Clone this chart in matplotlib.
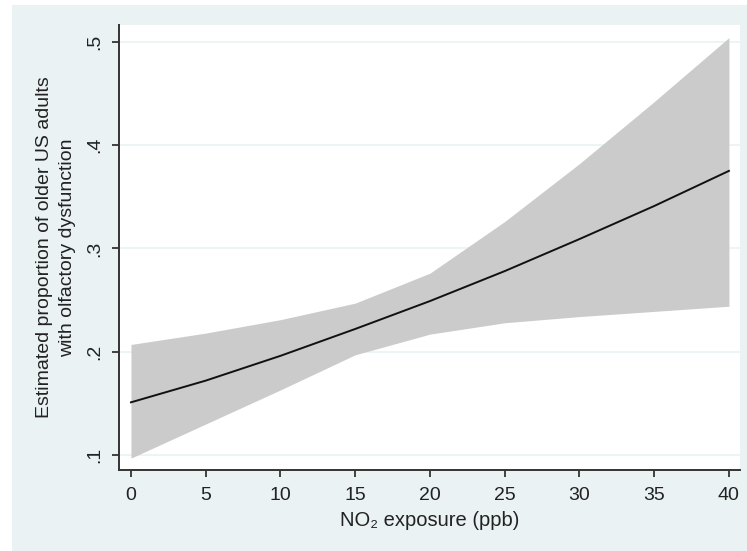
import matplotlib
matplotlib.use("Agg")
import matplotlib.pyplot as plt
from matplotlib.patches import Rectangle

no2 = [0, 5, 10, 15, 20, 25, 30, 35, 40]
estimate = [0.151, 0.172, 0.196, 0.222, 0.249, 0.278, 0.309, 0.341, 0.375]
upper = [0.207, 0.218, 0.231, 0.247, 0.276, 0.326, 0.382, 0.442, 0.504]
lower = [0.097, 0.130, 0.163, 0.197, 0.217, 0.228, 0.234, 0.239, 0.244]
xticks = [0, 5, 10, 15, 20, 25, 30, 35, 40]
yticks = [0.1, 0.2, 0.3, 0.4, 0.5]
ytick_labels = ['.1', '.2', '.3', '.4', '.5']

plt.rcParams['font.family'] = ['Liberation Sans', 'DejaVu Sans']

W, H = 747, 551
fig = plt.figure(figsize=(W / 100, H / 100), dpi=100, facecolor='white')
bg = '#EAF2F3'
fig.patches.append(Rectangle((12 / W, 0), 1 - 12 / W, 1 - 5 / H, transform=fig.transFigure,
                             facecolor=bg, edgecolor='none', zorder=0))

ax = fig.add_axes([119 / W, (H - 470) / H, 621 / W, 445 / H])
ax.set_facecolor('white')
ax.set_zorder(1)

ax.fill_between(no2, lower, upper, color='#cbcbcb', linewidth=0, zorder=2)
ax.plot(no2, estimate, color='#111111', linewidth=1.4, zorder=3)

ax.set_xlim(-0.80, 40.74)
ax.set_ylim(0.0855, 0.5162)
ax.set_xticks(xticks)
ax.set_yticks(yticks)
ax.set_yticklabels(ytick_labels, rotation=90, va='center')
for y in yticks:
    ax.axhline(y, color=bg, linewidth=1.2, zorder=1)

for s in ['top', 'right']:
    ax.spines[s].set_visible(False)
for s in ['left', 'bottom']:
    ax.spines[s].set_color('#333333')
    ax.spines[s].set_linewidth(1.4)

ax.tick_params(axis='both', direction='out', length=5, width=1.3, color='#333333',
               labelsize=14, labelcolor='#222222')
ax.tick_params(axis='x', pad=7.5)
ax.tick_params(axis='y', pad=6)

ax.set_xlabel('NO₂ exposure (ppb)', fontsize=14.5, color='#222222', labelpad=5)
ax.set_ylabel('Estimated proportion of older US adults\nwith olfactory dysfunction',
              fontsize=14, color='#222222', labelpad=8, linespacing=1.45)

fig.savefig('out.png', dpi=100, facecolor=fig.get_facecolor())
